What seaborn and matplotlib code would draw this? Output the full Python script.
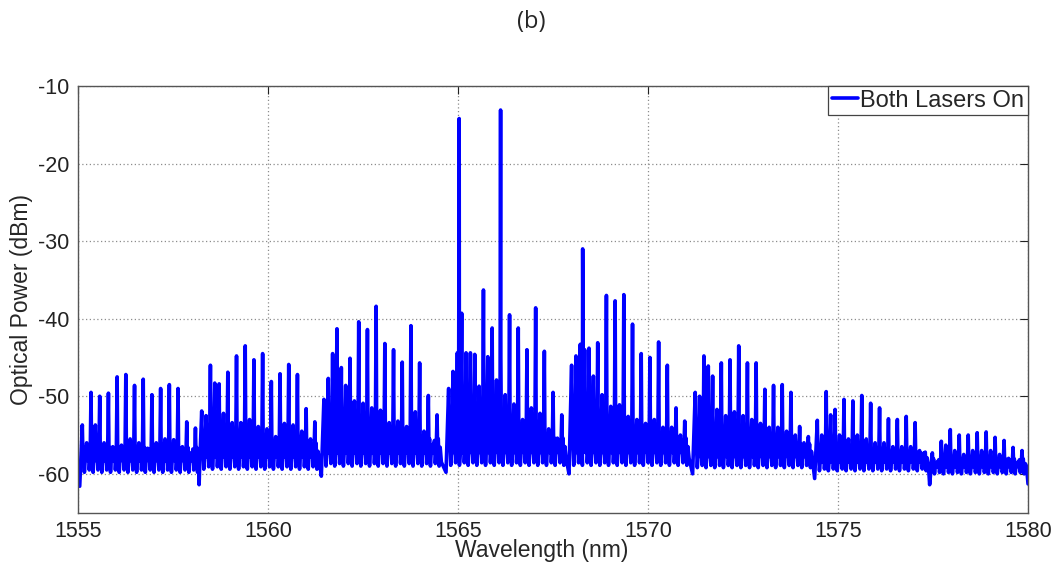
import numpy as np
import pandas as pd
import matplotlib
matplotlib.use("Agg")
import matplotlib.pyplot as plt
import seaborn as sns

# Optical spectrum, both lasers on.
# The spectrum is made of 8 comb groups; each comb line has a main peak
# and a weaker peak half way to the next line.

# first comb line of each group (nm) and comb line spacing (nm)
group_start = [1555.113, 1558.255, 1561.471, 1564.753, 1567.989, 1571.242, 1574.455, 1577.482]
group_spacing = [0.229, 0.229, 0.229, 0.229, 0.229, 0.229, 0.234, 0.236]
# noise floor between lines (dBm) and the dip just before each group (dBm)
group_floor = [-59.8, -59.4, -59.0, -58.9, -58.9, -59.2, -59.6, -60.0]
group_dip = [-61.6, -61.4, -60.3, -59.8, -60.0, -60.0, -60.6, -61.4]
# size of the small ripple between lines (dB)
group_ripple = [1.0, 1.05, 1.1, 1.1, 1.1, 0.95, 0.75, 0.6]

# main comb line heights (dBm)
g1_main = [-53.7, -49.5, -50.0, -49.6, -47.5, -47.2, -48.6, -47.8, -49.8, -49.0, -48.5, -49.0, -53.3, -54.1]
g2_main = [-51.9, -46.0, -48.4, -46.9, -44.8, -43.5, -45.3, -44.5, -48.1, -47.1, -45.9, -47.2, -51.6, -53.3]
g3_main = [-50.4, -44.5, -46.3, -45.1, -40.4, -41.4, -38.4, -43.2, -44.0, -45.6, -40.9, -45.7, -49.9, -52.4]
g4_main = [-49.0, -44.4, -44.4, -44.6, -36.3, -41.2, -45.0, -39.5, -41.2, -44.0, -38.6, -44.2, -49.5, -52.4]
g5_main = [-46.0, -43.3, -43.8, -43.1, -37.0, -37.7, -36.9, -40.7, -44.5, -45.0, -43.0, -46.0, -51.5, -53.2]
g6_main = [-49.5, -44.8, -47.4, -45.7, -45.3, -43.5, -45.7, -45.7, -49.1, -48.6, -48.5, -49.5, -53.9, -55.2]
g7_main = [-53.1, -49.4, -51.7, -50.4, -50.6, -49.9, -50.9, -51.5, -52.9, -53.0, -52.6, -53.4, -57.3]
g8_main = [-57.3, -55.8, -54.3, -55.0, -55.0, -54.7, -54.6, -55.3, -55.7, -56.6, -57.0]

# weaker in-between peaks (dBm)
g1_sec = [-56.0, -53.7, -56.0, -56.5, -56.3, -55.5, -56.0, -56.7, -56.0, -55.5, -55.6, -56.5, -57.3, -58.5]
g2_sec = [-52.5, -48.3, -52.2, -53.4, -53.4, -53.0, -53.9, -54.2, -55.2, -53.5, -53.7, -54.5, -55.5, -58.0]
g3_sec = [-47.7, -41.3, -48.6, -50.6, -50.9, -51.5, -51.8, -53.4, -53.2, -53.9, -52.0, -54.5, -56.2, -58.5]
g4_sec = [-46.8, -39.3, -44.4, -48.7, -44.9, -47.9, -49.8, -51.0, -53.0, -51.5, -52.2, -54.2, -55.4, -58.0]
g5_sec = [-44.8, -44.0, -47.4, -49.8, -51.3, -51.1, -52.6, -53.0, -53.5, -53.0, -54.0, -54.0, -55.0, -58.0]
g6_sec = [-50.0, -46.1, -51.7, -52.5, -52.0, -52.5, -53.0, -53.5, -54.0, -54.0, -54.5, -55.0, -56.0, -58.5]
g7_sec = [-55.0, -52.4, -55.0, -55.5, -55.0, -55.5, -56.0, -56.0, -56.5, -56.5, -56.5, -57.0, -59.0]
g8_sec = [-58.5, -56.3, -57.0, -57.5, -57.0, -57.0, -57.0, -57.5, -58.0, -58.5, -59.0]

# the two lasers and the strong mixing product
laser_wl = [1565.03, 1566.12, 1568.28]
laser_db = [-14.2, -13.1, -31.0]

# trace ends
edge_wl = [1555.0, 1580.0]
edge_db = [-61.5, -61.3]

main_peaks = [g1_main, g2_main, g3_main, g4_main, g5_main, g6_main, g7_main, g8_main]
sec_peaks = [g1_sec, g2_sec, g3_sec, g4_sec, g5_sec, g6_sec, g7_sec, g8_sec]

# shape of the ripple between lines: (fraction of spacing, height above floor)
ripple = [(0.07, 2.0), (0.14, 3.2), (0.24, 0.0), (0.36, 2.2)]
ripple2 = [(0.60, 1.5), (0.70, 3.0), (0.80, 0.3), (0.90, 1.8)]

wl, db = list(edge_wl), list(edge_db)
for g in range(len(group_start)):
    start, sp, fl, rs = group_start[g], group_spacing[g], group_floor[g], group_ripple[g]
    wl.append(start - 0.3 * sp)
    db.append(group_dip[g])
    n = len(main_peaks[g])
    for k in range(n):
        x0 = start + k * sp
        wl.append(x0)
        db.append(main_peaks[g][k])
        for f, h in ripple:
            wl.append(x0 + f * sp)
            db.append(fl + h * rs)
        wl.append(x0 + 0.5 * sp)
        db.append(sec_peaks[g][k])
        if k < n - 1:
            for f, h in ripple2:
                wl.append(x0 + f * sp)
                db.append(fl + h * rs)

wl += laser_wl
db += laser_db

spec = pd.DataFrame({"Wavelength": wl, "Power": db}).sort_values("Wavelength")
spec = spec[(spec["Wavelength"] >= 1555) & (spec["Wavelength"] <= 1580)]

sns.set_style("white")
plt.rcParams["font.family"] = ["Liberation Sans", "DejaVu Sans"]
plt.rcParams["axes.unicode_minus"] = False

fig = plt.figure(figsize=(10.63, 5.65), dpi=100)
ax = fig.add_axes([0.0734, 0.0927, 0.8937, 0.7551])

sns.lineplot(data=spec, x="Wavelength", y="Power", ax=ax, sort=False,
             estimator=None, color="#0000ff", linewidth=2.6,
             label="Both Lasers On")

ax.set_xlim(1555, 1580)
ax.set_ylim(-65, -10)
ax.set_xticks(np.arange(1555, 1581, 5))
ax.set_yticks(np.arange(-60, -9, 10))
ax.grid(True, color="#8c8c8c", linestyle=(0, (1, 2)), linewidth=0.9)
ax.tick_params(direction="in", length=6, top=True, right=True,
               labelsize=15.5, colors="#222222", pad=6)
for s in ax.spines.values():
    s.set_color("#555555")
    s.set_linewidth(1.0)

ax.set_xlabel("Wavelength (nm)", fontsize=16.5)
ax.xaxis.set_label_coords(0.488, -0.088, transform=ax.transAxes)
ax.xaxis.label.set_va("center")
ax.set_ylabel("Optical Power (dBm)", fontsize=16.5, labelpad=4)

leg = ax.legend(loc="upper right", borderaxespad=0, fontsize=17,
                handlelength=1.1, handletextpad=0.12, borderpad=0.15,
                fancybox=False, framealpha=1, edgecolor="#444444")
leg.get_frame().set_linewidth(0.9)

fig.text(0.5, 1 - 22 / 565, "(b)", ha="center", va="center",
         fontsize=17, family=["Open Sans", "DejaVu Sans"])

fig.savefig("out.png", dpi=100)
